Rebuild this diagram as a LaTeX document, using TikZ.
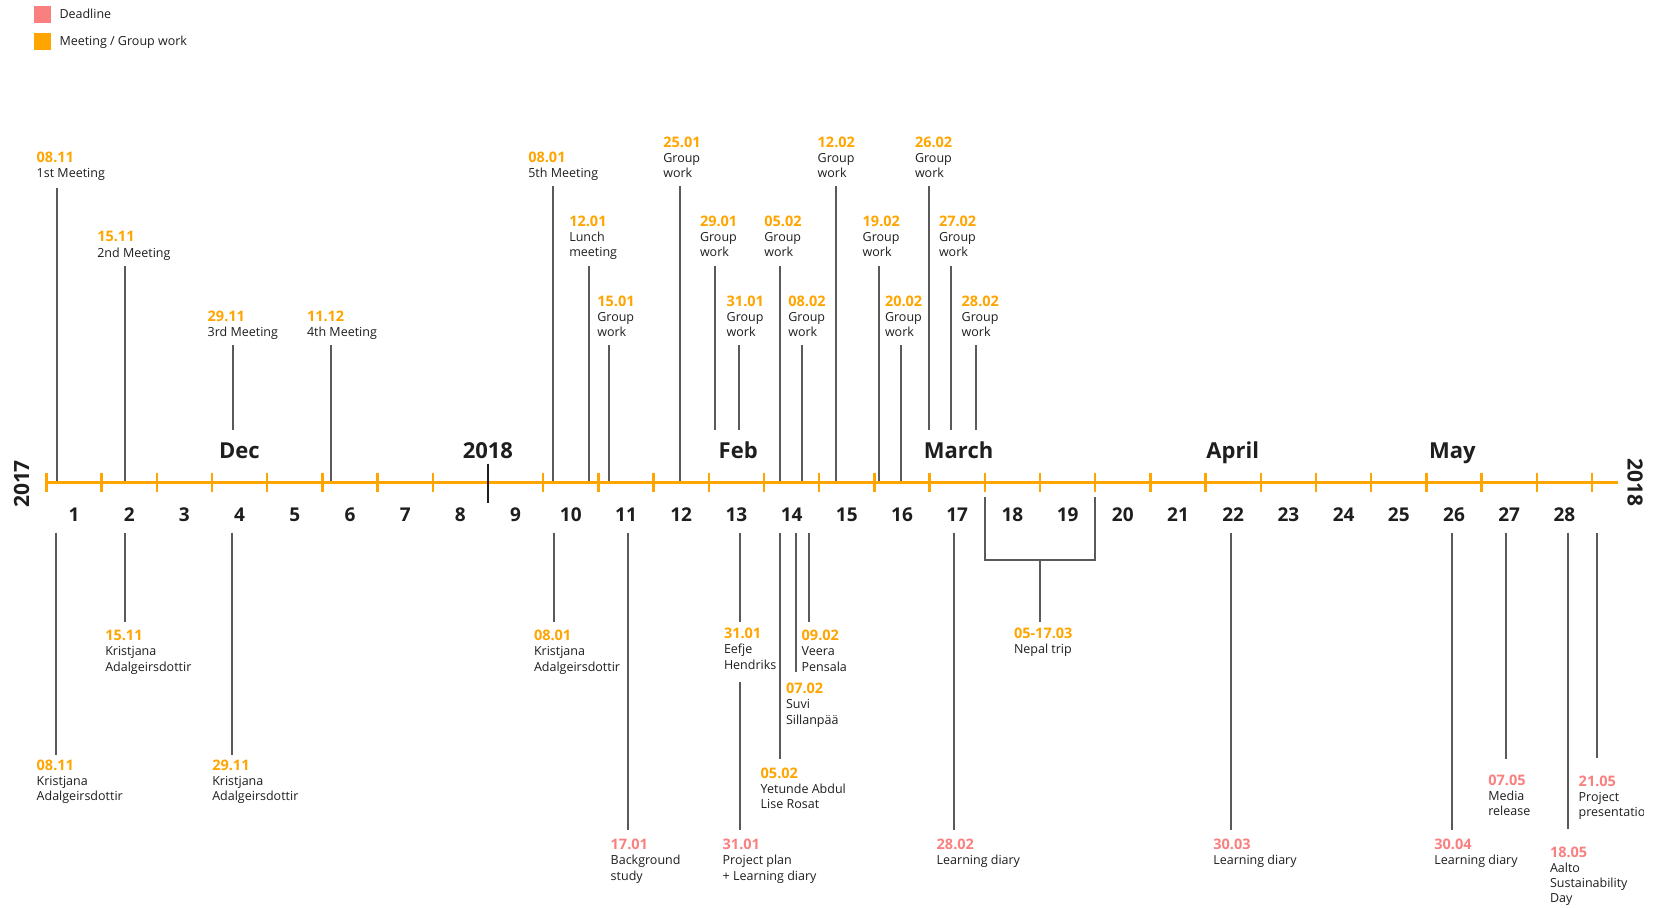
\documentclass[tikz,border=0pt]{standalone}
\usepackage{fontspec}
\setmainfont{Open Sans}
\definecolor{meet}{RGB}{255,165,0}
\definecolor{dead}{RGB}{250,128,128}
\definecolor{ink}{RGB}{30,30,30}
\definecolor{stem}{RGB}{90,90,90}
\newcommand{\datefont}{\fontsize{14.5}{15.3}\selectfont\bfseries}
\newcommand{\bodyfont}{\fontsize{12.5}{15.3}\selectfont}

\begin{document}
\begin{tikzpicture}[x=1pt,y=-1pt,
  lbl/.style={inner sep=0pt, outer sep=0pt, align=left, anchor=north west, font=\bodyfont, text=ink},
  stemline/.style={draw=stem, line width=1.8pt},
  axisline/.style={draw=meet, line width=2.6pt},
  tickmark/.style={draw=meet, line width=2.4pt},
  month/.style={font=\fontsize{22}{24}\selectfont\bfseries, text=ink, inner sep=0pt, anchor=base},
  weeknum/.style={font=\fontsize{19}{21}\selectfont\bfseries, text=ink, inner sep=0pt, anchor=base},
  yearlbl/.style={font=\fontsize{21}{23}\selectfont\bfseries, text=ink, inner sep=0pt},
  legsq/.style={minimum size=17pt, inner sep=0pt, draw=none},
  legtxt/.style={font=\bodyfont, text=ink, inner sep=0pt, anchor=base west},
]
\clip (0,0) rectangle (1664,907);
\fill[white] (0,0) rectangle (1664,907);

% legend
\node[legsq, fill=dead] (legD) at (42.2,14.4) {};
\node[legtxt] (legDt) at (59.3,18.5) {Deadline};
\node[legsq, fill=meet] (legM) at (42.2,41.3) {};
\node[legtxt] (legMt) at (59.3,45.2) {Meeting / Group work};

% events above the axis: name / label x / date centre y / date / text / stem x / stem top / stem bottom
\foreach \n/\lx/\yc/\dt/\txt/\px/\pa/\pb in {
  a/36.7/156.7/08.11/1st Meeting/57.3/188/482.5,
  b/97.3/236.7/15.11/2nd Meeting/124.7/266/482.5,
  c/207.7/316/29.11/3rd Meeting/232.7/345/430,
  d/307/316/11.12/4th Meeting/331/345/482.5,
  e/528.3/157.3/08.01/5th Meeting/552.7/186/482.5,
  f/569.3/220.7/12.01/Lunch\\meeting/588.7/265.7/482.5,
  g/597.3/301/15.01/Group\\work/609.3/345/482.5,
  h/663.3/142/25.01/Group\\work/680.3/186/482.5,
  i/700/220.7/29.01/Group\\work/715/265.7/430,
  j/726.7/301/31.01/Group\\work/739.3/345/430,
  k/764.3/220.7/05.02/Group\\work/780/265.7/482.5,
  l/788.3/301/08.02/Group\\work/801.7/345/482.5,
  m/817.7/142/12.02/Group\\work/835.7/186/482.5,
  n/862.7/220.7/19.02/Group\\work/879/265.7/482.5,
  o/885/301/20.02/Group\\work/901/345/482.5,
  p/915/142/26.02/Group\\work/929.3/186/430,
  q/939/220.7/27.02/Group\\work/951.3/265.7/430,
  r/961.7/301/28.02/Group\\work/976/345/430}
{
  \node[lbl] (up\n) at (\lx,\yc-5.2) {{\datefont\color{meet}\dt}\\\txt};
  \coordinate (up\n s) at (\px,\pa);
  \coordinate (up\n e) at (\px,\pb);
  \draw[stemline] (up\n s) -- (up\n e);
}

% events below the axis
\foreach \n/\lx/\yc/\dt/\txt/\px/\pa/\pb/\cl in {
  a/36.7/765/08.11/Kristjana\\Adalgeirsdottir/56/532.7/755/meet,
  b/105.3/635.3/15.11/Kristjana\\Adalgeirsdottir/125/532.7/621.7/meet,
  c/212.3/765/29.11/Kristjana\\Adalgeirsdottir/232.3/532.7/755/meet,
  d/534/635.3/08.01/Kristjana\\Adalgeirsdottir/554/532.7/621.7/meet,
  e/610.7/844.3/17.01/Background\\study/627.7/532.7/830/dead,
  f/724/633.3/31.01/Eefje\\Hendriks/740/532.7/621.7/meet,
  g/722.7/844.3/31.01/Project plan\\+ Learning diary/740/681.7/830/dead,
  h/760.7/772.7/05.02/Yetunde Abdul\\Lise Rosat/780.3/532.7/759.3/meet,
  i/786/688.3/07.02/Suvi\\Sillanpää/795.7/532.7/671.7/meet,
  j/801.7/635.3/09.02/Veera\\Pensala/809.3/532.7/621.7/meet,
  k/936.7/844.3/28.02/Learning diary/954/532.7/830/dead,
  l/1213.3/844.3/30.03/Learning diary/1230.7/532.7/830/dead,
  m/1434.3/844.3/30.04/Learning diary/1451.7/532.7/830/dead,
  n/1488.3/780/07.05/Media\\release/1506/532.7/759.3/dead,
  o/1550/851.7/18.05/Aalto\\Sustainability\\Day/1568.3/532.7/829.3/dead}
{
  \node[lbl] (dn\n) at (\lx,\yc-5.2) {{\datefont\color{\cl}\dt}\\\txt};
  \coordinate (dn\n s) at (\px,\pa);
  \coordinate (dn\n e) at (\px,\pb);
  \draw[stemline] (dn\n s) -- (dn\n e);
}

% last deadline, its text box cut off at the right
\begin{scope}
  \clip (1570,760) rectangle (1643,830);
  \node[lbl] (dnp) at (1578.7,780.7-5.2) {{\datefont\color{dead}21.05}\\Project\\presentation};
\end{scope}
\coordinate (dnps) at (1597.3,532.7);
\coordinate (dnpe) at (1597.3,758.3);
\draw[stemline] (dnps) -- (dnpe);

% Nepal trip bracket spanning weeks 18 and 19
\node[lbl] (nepal) at (1014,633.3-5.2) {{\datefont\color{meet}05-17.03}\\Nepal trip};
\coordinate (nbL1) at (984.6,496.7);
\coordinate (nbL2) at (984.6,560);
\coordinate (nbR1) at (1095.2,496.7);
\coordinate (nbR2) at (1095.2,560);
\coordinate (nbS) at (1040,560);
\coordinate (nbE) at (1040,621.7);
\draw[stemline] (nbL1) -- (nbL2) -- (nbR2) -- (nbR1);
\draw[stemline] (nbS) -- (nbE);

% time axis with weekly ticks
\coordinate (axL) at (44.5,482.5);
\coordinate (axR) at (1618,482.5);
\draw[axisline] (axL) -- (axR);
\foreach \k in {0,...,28} {
  \ifnum\k=8\relax\else
    \pgfmathsetmacro\tx{46.4+55.2*\k}
    \coordinate (tk\k a) at (\tx,472.7);
    \coordinate (tk\k b) at (\tx,491.7);
    \draw[tickmark] (tk\k a) -- (tk\k b);
  \fi
}
% new year marker
\coordinate (nyA) at (488,463.7);
\coordinate (nyB) at (488,502.7);
\draw[draw=ink, line width=2.4pt] (nyA) -- (nyB);

% week numbers
\foreach \k in {1,...,28} {
  \node[weeknum] (wk\k) at ({18.8+55.2*\k},521.8) {\k};
}

% months and years
\node[month] (mDec) at (239.3,458.5) {Dec};
\node[month] (m2018) at (487.9,458.5) {2018};
\node[month] (mFeb) at (738.2,458.5) {Feb};
\node[month] (mMar) at (958.6,458.5) {March};
\node[month] (mApr) at (1232.7,458.5) {April};
\node[month] (mMay) at (1452.4,458.5) {May};
\node[yearlbl, rotate=90] (yStart) at (21.7,484) {2017};
\node[yearlbl, rotate=-90] (yEnd) at (1635,482) {2018};
\end{tikzpicture}
\end{document}
